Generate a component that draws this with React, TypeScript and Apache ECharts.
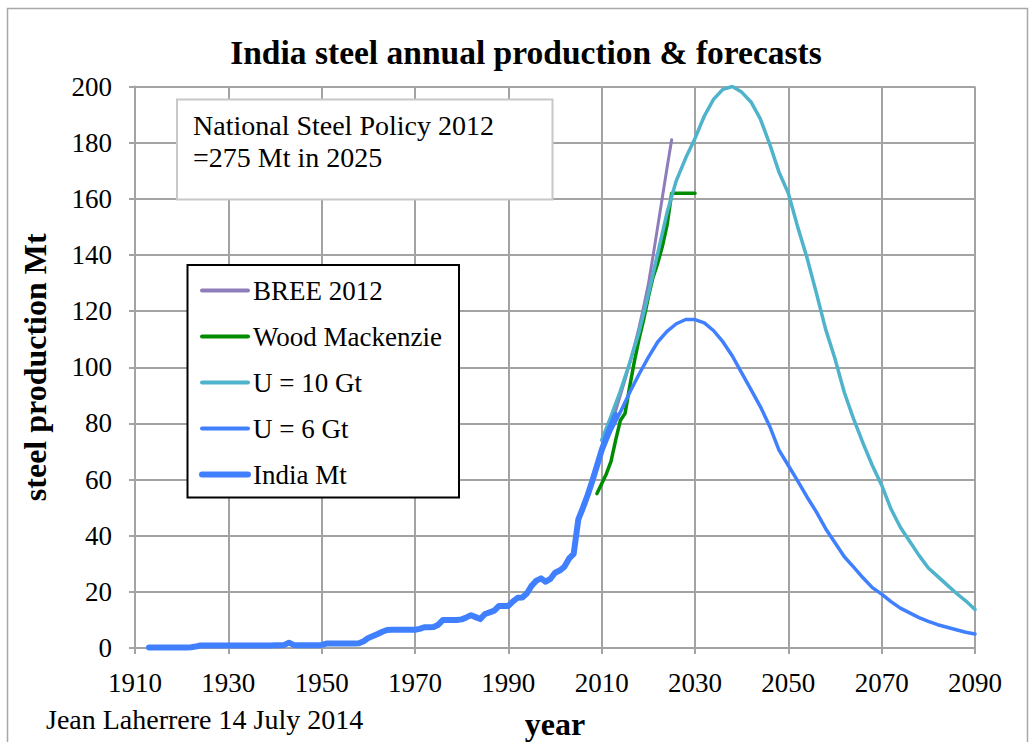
import React, { useEffect, useRef } from "react";
import * as echarts from "echarts";

// Historical production, one value per year starting in 1913 (Mt)
const indiaStartYear = 1913;
const indiaValues = [
  0.2, 0.2, 0.2, 0.2, 0.2, 0.2, 0.2, 0.2, 0.2, 0.3, // 1913-1922
  0.5, 0.9, 0.9, 0.9, 0.9, 0.9, 0.9, 0.9, 0.9, 0.9, // 1923-1932
  0.9, 0.9, 0.9, 0.9, 0.9, 0.9, 0.9, 1.0, 1.0, 1.1, // 1933-1942
  1.9, 1.1, 1.0, 1.0, 1.0, 1.0, 1.0, 1.1, 1.6, 1.6, // 1943-1952
  1.6, 1.6, 1.6, 1.6, 1.6, 1.7, 2.4, 3.6, 4.3, 5.0, // 1953-1962
  5.8, 6.4, 6.5, 6.5, 6.5, 6.5, 6.5, 6.5, 6.8, 7.4, // 1963-1972
  7.4, 7.5, 8.3, 10.0, 10.0, 10.0, 10.0, 10.2, 10.9, 11.7, // 1973-1982
  11.0, 10.3, 12.1, 12.7, 13.3, 15.0, 15.0, 15.0, 16.6, 17.9, // 1983-1992
  18.0, 19.5, 22.2, 24.0, 24.8, 23.6, 24.6, 26.8, 27.6, 28.9, // 1993-2002
  31.8, 33.5, 45.8, 50.0, 54.5, 59.5, 65.0, 70.5, 75.0, 79.0, // 2003-2012
  83.0, // 2013
];

// Forecast curves, sampled every two years
const u6Years = [
  2008, 2010, 2012, 2014, 2016, 2018, 2020, 2022, 2024, 2026, 2028, 2030,
  2032, 2034, 2036, 2038, 2040, 2042, 2044, 2046, 2048, 2050, 2052, 2054,
  2056, 2058, 2060, 2062, 2064, 2066, 2068, 2070, 2072, 2074, 2076, 2078,
  2080, 2082, 2084, 2086, 2088, 2090,
];
const u6Values = [
  60, 69.5, 77.5, 84, 91, 97.5, 103.5, 109, 112.8, 115.5, 117, 117,
  115.8, 113, 109, 104, 98, 92, 86, 79, 70.5, 65, 59.5, 53.8,
  48.5, 42.5, 37.5, 32.5, 28.8, 25, 21.5, 19.2, 16.5, 14.2, 12.5, 10.8,
  9.5, 8.3, 7.4, 6.5, 5.6, 5,
];

const u10Years = [
  2010, 2012, 2014, 2016, 2018, 2020, 2022, 2024, 2026, 2028, 2030, 2032,
  2034, 2036, 2038, 2040, 2042, 2044, 2046, 2048, 2050, 2052, 2054, 2056,
  2058, 2060, 2062, 2064, 2066, 2068, 2070, 2072, 2074, 2076, 2078, 2080,
  2082, 2084, 2086, 2088, 2090,
];
const u10Values = [
  74, 82.5, 91.5, 101.5, 112.5, 126, 140.5, 155, 166.5, 174.5, 181.5, 189.5,
  195.5, 199, 200, 198, 194.5, 188.5, 179.5, 169.5, 162, 150, 139, 126.5,
  113.5, 103, 91, 81.5, 73, 65, 58, 49.5, 43, 38, 33, 28.5,
  25.5, 22.5, 19.5, 16.8, 13.7,
];

const breeYears = [2011, 2012, 2013, 2014, 2015, 2016, 2017, 2018, 2019, 2020, 2021, 2022, 2023, 2024, 2025];
const breeValues = [75, 79, 84.5, 90, 95.5, 101.5, 107.5, 114, 121.5, 129.5, 139.5, 150, 160.5, 171, 181];

const woodYears = [
  2009, 2010, 2011, 2012, 2013, 2014, 2015, 2016, 2017, 2018, 2019, 2020,
  2021, 2022, 2023, 2024, 2025, 2026, 2027, 2028, 2029, 2030,
];
const woodValues = [
  55, 58.5, 62, 66.5, 74, 81, 83.5, 93, 102, 110, 117, 125,
  132, 137, 143, 150.5, 162, 162, 162, 162, 162, 162,
];

const xTicks = { min: 1910, max: 2090, step: 20 };
const yTicks = { min: 0, max: 200, step: 20 };

const seriesNames = ["BREE 2012", "Wood Mackenzie", "U = 10 Gt", "U = 6 Gt", "India Mt"];
const seriesColors = ["#8f7dbb", "#008c00", "#4fb3cc", "#4080ff", "#4080ff"];
const seriesWidths = [3, 3.5, 3.5, 3.5, 6];

const FONT = "'Liberation Serif', 'Times New Roman', serif";
const GRID_COLOR = "#a3a3a3";

const zip = (xs: number[], ys: number[]) => xs.map((x, i) => [x, ys[i]]);

export default function App() {
  const ref = useRef<HTMLDivElement>(null);

  useEffect(() => {
    if (!ref.current) return;
    const chart = echarts.init(ref.current, null, { renderer: "svg" });

    const indiaData = indiaValues.map((v, i) => [indiaStartYear + i, v]);
    const seriesData = [
      zip(breeYears, breeValues),
      zip(woodYears, woodValues),
      zip(u10Years, u10Values),
      zip(u6Years, u6Values),
      indiaData,
    ];

    chart.setOption({
      animation: false,
      backgroundColor: "#ffffff",
      grid: {
        left: 135,
        right: 58,
        top: 86.5,
        bottom: 94,
        containLabel: false,
        outerBoundsMode: "none",
      },
      xAxis: {
        type: "value",
        min: xTicks.min,
        max: xTicks.max,
        interval: xTicks.step,
        name: "year",
        nameLocation: "middle",
        nameGap: 60,
        nameTextStyle: { fontFamily: FONT, fontSize: 32, fontWeight: "bold", color: "#000" },
        axisLine: { show: true, lineStyle: { color: GRID_COLOR, width: 2 } },
        axisTick: { show: true, length: 6, lineStyle: { color: GRID_COLOR, width: 2 } },
        axisLabel: {
          fontFamily: FONT,
          fontSize: 27,
          color: "#000",
          margin: 21,
          formatter: (v: number) => String(v),
        },
        splitLine: { show: true, lineStyle: { color: GRID_COLOR, width: 2 } },
      },
      yAxis: {
        type: "value",
        min: yTicks.min,
        max: yTicks.max,
        interval: yTicks.step,
        name: "steel production Mt",
        nameLocation: "middle",
        nameRotate: 90,
        nameGap: 84,
        nameTextStyle: { fontFamily: FONT, fontSize: 32, fontWeight: "bold", color: "#000" },
        axisLine: { show: true, lineStyle: { color: GRID_COLOR, width: 2 } },
        axisTick: { show: true, length: 6, lineStyle: { color: GRID_COLOR, width: 2 } },
        axisLabel: { fontFamily: FONT, fontSize: 27, color: "#000", margin: 23 },
        splitLine: { show: true, lineStyle: { color: GRID_COLOR, width: 2 } },
      },
      legend: {
        data: seriesNames.map((name, i) => ({
          name,
          lineStyle: { width: i === 4 ? 6 : 4, color: seriesColors[i] },
        })),
        orient: "vertical",
        left: 199,
        top: 277,
        itemWidth: 46,
        itemHeight: 10,
        itemGap: 19,
        padding: 0,
        selectedMode: false,
        itemStyle: { opacity: 0, borderWidth: 0 },
        textStyle: { fontFamily: FONT, fontSize: 27, color: "#000" },
        z: 6,
      },
      graphic: [
        // outer chart frame
        {
          type: "rect",
          z: 1,
          silent: true,
          shape: { x: 7.5, y: 8.5, width: 1020, height: 800 },
          style: { fill: "none", stroke: "#a8a8a8", lineWidth: 1.5 },
        },
        {
          type: "text",
          z: 5,
          x: 526,
          y: 52,
          style: {
            text: "India steel annual production & forecasts",
            font: `bold 33.5px ${FONT}`,
            fill: "#000",
            textAlign: "center",
            textVerticalAlign: "middle",
          },
        },
        {
          type: "text",
          z: 5,
          x: 46,
          y: 719,
          style: {
            text: "Jean Laherrere 14 July 2014",
            font: `28px ${FONT}`,
            fill: "#000",
            textAlign: "left",
            textVerticalAlign: "middle",
          },
        },
        // policy note
        {
          type: "rect",
          z: 5,
          silent: true,
          shape: { x: 177, y: 99.5, width: 375.5, height: 100 },
          style: { fill: "#ffffff", stroke: "#c8c8c8", lineWidth: 2 },
        },
        {
          type: "text",
          z: 6,
          x: 193,
          y: 125.5,
          style: {
            text: "National Steel Policy 2012",
            font: `28px ${FONT}`,
            fill: "#000",
            textAlign: "left",
            textVerticalAlign: "middle",
          },
        },
        {
          type: "text",
          z: 6,
          x: 193,
          y: 157,
          style: {
            text: "=275 Mt in 2025",
            font: `28px ${FONT}`,
            fill: "#000",
            textAlign: "left",
            textVerticalAlign: "middle",
          },
        },
        // legend frame
        {
          type: "rect",
          z: 5,
          silent: true,
          shape: { x: 187.5, y: 265, width: 271.5, height: 232.5 },
          style: { fill: "#ffffff", stroke: "#000000", lineWidth: 2 },
        },
      ],
      series: seriesNames.map((name, i) => ({
        name,
        type: "line",
        data: seriesData[i],
        symbol: "none",
        silent: true,
        z: i >= 3 ? 3 : 2,
        itemStyle: { color: seriesColors[i] },
        lineStyle: { color: seriesColors[i], width: seriesWidths[i], cap: "round", join: "round" },
      })),
    });

    return () => chart.dispose();
  }, []);

  return (
    <div
      ref={ref}
      style={{ position: "absolute", left: 0, top: 0, width: 1033, height: 742 }}
    />
  );
}
